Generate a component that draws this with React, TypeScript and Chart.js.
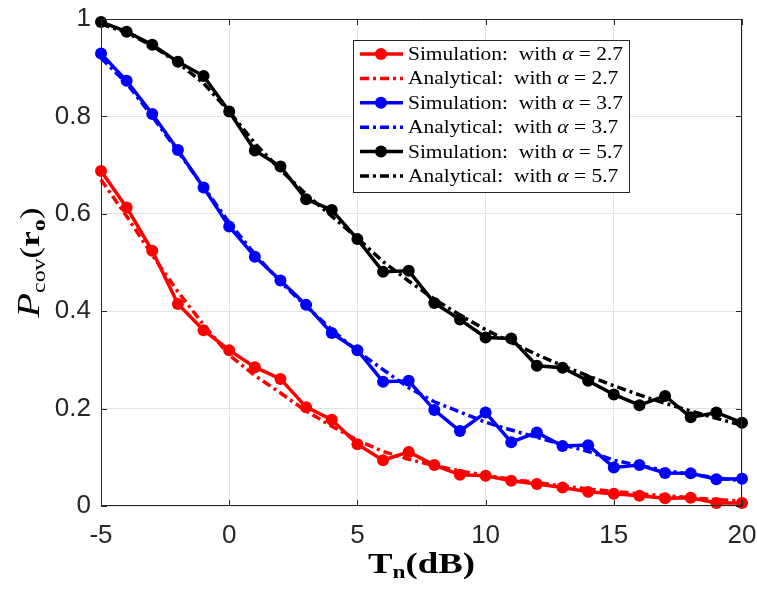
import React, { useEffect, useRef } from 'react';
import { Chart, registerables } from 'chart.js';
Chart.register(...registerables);

const xValues = [-5, -4, -3, -2, -1, 0, 1, 2, 3, 4, 5, 6, 7, 8, 9, 10, 11, 12, 13, 14, 15, 16, 17, 18, 19, 20];
const simAlpha27 = [0.688, 0.613, 0.524, 0.415, 0.361, 0.320, 0.285, 0.261, 0.203, 0.177, 0.127, 0.094, 0.111, 0.084, 0.064, 0.062, 0.052, 0.045, 0.038, 0.029, 0.025, 0.021, 0.016, 0.017, 0.006, 0.006];
const anaAlpha27 = [0.670, 0.595, 0.515, 0.440, 0.372, 0.310, 0.268, 0.232, 0.195, 0.164, 0.135, 0.112, 0.096, 0.083, 0.072, 0.063, 0.055, 0.048, 0.041, 0.035, 0.030, 0.025, 0.021, 0.017, 0.013, 0.010];
const simAlpha37 = [0.929, 0.873, 0.805, 0.731, 0.654, 0.574, 0.512, 0.463, 0.413, 0.355, 0.320, 0.255, 0.257, 0.197, 0.154, 0.192, 0.131, 0.151, 0.123, 0.125, 0.079, 0.084, 0.068, 0.067, 0.055, 0.056];
const anaAlpha37 = [0.920, 0.868, 0.800, 0.728, 0.655, 0.582, 0.517, 0.460, 0.410, 0.362, 0.318, 0.280, 0.243, 0.214, 0.193, 0.172, 0.156, 0.141, 0.126, 0.112, 0.094, 0.083, 0.073, 0.065, 0.058, 0.052];
const simAlpha57 = [0.994, 0.974, 0.947, 0.912, 0.883, 0.810, 0.730, 0.697, 0.630, 0.608, 0.548, 0.481, 0.483, 0.417, 0.383, 0.346, 0.344, 0.288, 0.284, 0.257, 0.229, 0.207, 0.226, 0.182, 0.192, 0.171];
const anaAlpha57 = [0.990, 0.972, 0.945, 0.910, 0.868, 0.810, 0.745, 0.690, 0.640, 0.595, 0.550, 0.502, 0.462, 0.425, 0.392, 0.362, 0.336, 0.311, 0.288, 0.267, 0.247, 0.228, 0.211, 0.195, 0.180, 0.166];

const seriesLabels = [
  'Simulation:  with α = 2.7',
  'Analytical:  with α = 2.7',
  'Simulation:  with α = 3.7',
  'Analytical:  with α = 3.7',
  'Simulation:  with α = 5.7',
  'Analytical:  with α = 5.7',
];
const seriesColors = ['#ff0000', '#ff0000', '#0000ff', '#0000ff', '#000000', '#000000'];
const seriesValues = [simAlpha27, anaAlpha27, simAlpha37, anaAlpha37, simAlpha57, anaAlpha57];
const xTickStep = 5;
const yTickStep = 0.2;
const dashPattern = [9, 4, 3, 4];
const AXIS_COLOR = '#262626';
const SERIF = '"Liberation Serif", "Times New Roman", serif';

function drawSegs(ctx: any, segs: any[], cx: number, baseY: number, targetW: number) {
  let total = 0;
  segs.forEach((s) => { ctx.font = s.f; total += ctx.measureText(s.t).width; });
  const k = targetW / total;
  ctx.save();
  ctx.translate(cx - targetW / 2, baseY);
  ctx.scale(k, 1);
  let sx = 0;
  segs.forEach((s) => {
    ctx.font = s.f;
    ctx.fillText(s.t, sx, s.dy);
    sx += ctx.measureText(s.t).width;
  });
  ctx.restore();
}

const framePlugin = {
  id: 'matlabFrame',
  afterDatasetsDraw(chart: any) {
    const { ctx, chartArea: a, scales } = chart;
    ctx.save();
    ctx.strokeStyle = AXIS_COLOR;
    ctx.lineWidth = 1;
    ctx.beginPath();
    ctx.rect(a.left + 0.5, a.top + 0.5, a.right - a.left - 1, a.bottom - a.top - 1);
    ctx.stroke();
    const tl = 6;
    ctx.beginPath();
    scales.x.ticks.forEach((t: any) => {
      const px = Math.round(scales.x.getPixelForValue(t.value)) + 0.5;
      ctx.moveTo(px, a.bottom); ctx.lineTo(px, a.bottom - tl);
      ctx.moveTo(px, a.top); ctx.lineTo(px, a.top + tl);
    });
    scales.y.ticks.forEach((t: any) => {
      const py = Math.round(scales.y.getPixelForValue(t.value)) + 0.5;
      ctx.moveTo(a.left, py); ctx.lineTo(a.left + tl, py);
      ctx.moveTo(a.right, py); ctx.lineTo(a.right - tl, py);
    });
    ctx.stroke();
    ctx.restore();
  },
  afterDraw(chart: any) {
    const { ctx, chartArea: a } = chart;
    ctx.save();
    // Legend box
    const bx = 353, by = 40, bw = 276, bh = 152;
    ctx.fillStyle = '#ffffff';
    ctx.fillRect(bx, by, bw, bh);
    ctx.strokeStyle = AXIS_COLOR;
    ctx.lineWidth = 1;
    ctx.strokeRect(bx + 0.5, by + 0.5, bw, bh);
    ctx.textBaseline = 'alphabetic';
    const baseFont = `18px ${SERIF}`;
    const itFont = `italic 18px ${SERIF}`;
    // horizontal stretch so the first label spans 215px like the reference
    const measureLabel = (lab: string) => {
      const p = lab.split('α');
      ctx.font = baseFont;
      let w = ctx.measureText(p[0]).width + ctx.measureText(p[1]).width;
      ctx.font = itFont;
      w += ctx.measureText('α').width;
      return w;
    };
    const k = 215 / measureLabel(seriesLabels[0]);
    seriesLabels.forEach((lab, i) => {
      const y = by + 14 + i * 24.4;
      const c = seriesColors[i];
      ctx.strokeStyle = c;
      ctx.lineWidth = 3.5;
      ctx.setLineDash(i % 2 === 1 ? dashPattern : []);
      ctx.beginPath();
      ctx.moveTo(bx + 7, y);
      ctx.lineTo(bx + 50, y);
      ctx.stroke();
      ctx.setLineDash([]);
      if (i % 2 === 0) {
        ctx.fillStyle = c;
        ctx.beginPath();
        ctx.arc(bx + 28, y, 6, 0, Math.PI * 2);
        ctx.fill();
      }
      ctx.fillStyle = '#000000';
      const parts = lab.split('α');
      ctx.save();
      ctx.translate(bx + 55, y + 6);
      ctx.scale(k, 1);
      let x = 0;
      ctx.font = baseFont;
      ctx.fillText(parts[0], x, 0);
      x += ctx.measureText(parts[0]).width;
      ctx.font = itFont;
      ctx.fillText('α', x, 0);
      x += ctx.measureText('α').width;
      ctx.font = baseFont;
      ctx.fillText(parts[1], x, 0);
      ctx.restore();
    });

    // X axis title: T_n(dB)
    ctx.fillStyle = '#000000';
    const big = `bold 30px ${SERIF}`;
    const small = `bold 19px ${SERIF}`;
    drawSegs(ctx, [
      { t: 'T', f: big, dy: 0 },
      { t: 'n', f: small, dy: 5 },
      { t: '(dB)', f: big, dy: 0 },
    ], (a.left + a.right) / 2, 573, 107);

    // Y axis title: P_cov(r_o)
    ctx.save();
    ctx.translate(39, (a.top + a.bottom) / 2);
    ctx.rotate(-Math.PI / 2);
    drawSegs(ctx, [
      { t: 'P', f: `italic 32px ${SERIF}`, dy: 0 },
      { t: 'cov', f: `19px ${SERIF}`, dy: 6 },
      { t: '(', f: `28px ${SERIF}`, dy: 0 },
      { t: 'r', f: `bold 28px ${SERIF}`, dy: 0 },
      { t: 'o', f: `bold 19px ${SERIF}`, dy: 6 },
      { t: ')', f: `28px ${SERIF}`, dy: 0 },
    ], 0, 0, 110);
    ctx.restore();
    ctx.restore();
  },
};

export default function App() {
  const ref = useRef<HTMLCanvasElement>(null);
  useEffect(() => {
    const canvas = ref.current!;
    const datasets = seriesValues.map((vals, i) => {
      const sim = i % 2 === 0;
      return {
        label: seriesLabels[i],
        data: xValues.map((x, j) => ({ x, y: vals[j] })),
        borderColor: seriesColors[i],
        backgroundColor: seriesColors[i],
        borderWidth: 3.5,
        borderDash: sim ? [] : dashPattern,
        pointRadius: sim ? 6 : 0,
        pointBorderWidth: 0,
        pointBackgroundColor: seriesColors[i],
        tension: 0,
        clip: false as any,
        order: 10 - i,
      };
    });
    const tickFont = { family: '"Liberation Sans", Arial, sans-serif', size: 26 };
    const chart = new Chart(canvas, {
      type: 'line',
      data: { datasets },
      options: {
        animation: false,
        responsive: false,
        maintainAspectRatio: false,
        devicePixelRatio: 1,
        layout: { padding: { top: 19, right: 15, left: 0, bottom: 0 } },
        plugins: { legend: { display: false }, tooltip: { enabled: false } },
        scales: {
          x: {
            type: 'linear',
            min: xValues[0],
            max: xValues[xValues.length - 1],
            ticks: {
              stepSize: xTickStep,
              color: AXIS_COLOR,
              font: tickFont,
              padding: 14,
              maxRotation: 0,
              callback: (v: any) => String(v),
            },
            grid: { color: '#e3e3e3', drawTicks: false },
            border: { display: false },
            afterFit: (s: any) => { s.height = 86; s.paddingLeft = 0; s.paddingRight = 0; },
          },
          y: {
            type: 'linear',
            min: 0,
            max: 1,
            ticks: {
              stepSize: yTickStep,
              color: AXIS_COLOR,
              font: tickFont,
              padding: 10,
              callback: (v: any) => (v === 0 || v === 1 ? String(v) : Number(v).toFixed(1)),
            },
            grid: { color: '#e3e3e3', drawTicks: false },
            border: { display: false },
            afterFit: (s: any) => { s.width = 101; s.paddingTop = 0; s.paddingBottom = 0; },
          },
        },
      },
      plugins: [framePlugin],
    });
    return () => chart.destroy();
  }, []);
  return (
    <div style={{ position: 'absolute', left: 0, top: 0, width: 757, height: 592, background: '#fff' }}>
      <canvas ref={ref} width={757} height={592} style={{ width: 757, height: 592 }} />
    </div>
  );
}
